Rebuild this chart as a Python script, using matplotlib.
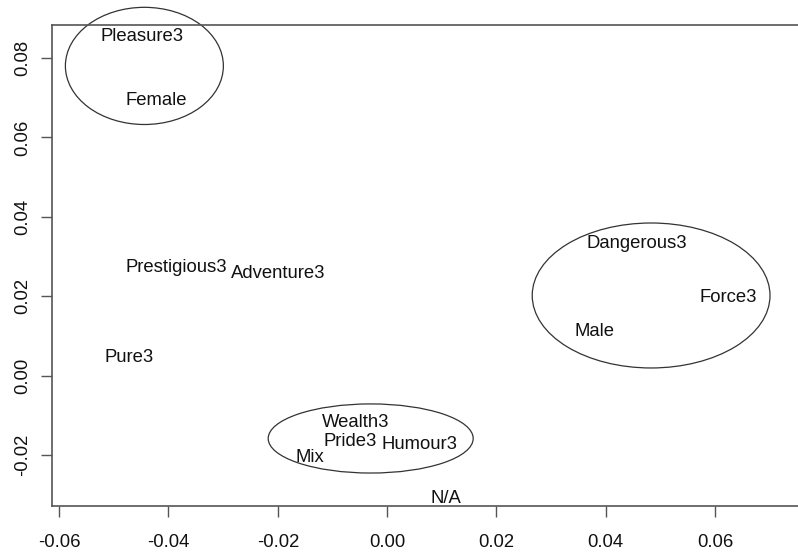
import matplotlib.pyplot as plt
from matplotlib.patches import Ellipse

plt.rcParams['font.family'] = ['Liberation Sans', 'DejaVu Sans']

# word positions (correspondence analysis style map)
labels = ['Pleasure3', 'Female', 'Prestigious3', 'Adventure3', 'Pure3',
          'Dangerous3', 'Force3', 'Male', 'Wealth3', 'Pride3', 'Humour3',
          'Mix', 'N/A']
x_vals = [-0.0448, -0.0422, -0.0386, -0.0199, -0.0472,
          0.0457, 0.0624, 0.0380, -0.0058, -0.0068, 0.0060,
          -0.0142, 0.0107]
y_vals = [0.0853, 0.0694, 0.0273, 0.0258, 0.0047,
          0.0332, 0.0198, 0.0112, -0.0117, -0.0165, -0.0172,
          -0.0205, -0.0308]

# cluster ellipses: centre x, centre y, width, height
ell_x = [-0.0444, 0.0483, -0.0030]
ell_y = [0.0780, 0.0202, -0.0158]
ell_w = [0.0289, 0.0435, 0.0375]
ell_h = [0.0295, 0.0365, 0.0174]

xticks = [-0.06, -0.04, -0.02, 0.00, 0.02, 0.04, 0.06]
yticks = [-0.02, 0.00, 0.02, 0.04, 0.06, 0.08]

fig = plt.figure(figsize=(7.98, 5.55), dpi=100)
ax = fig.add_axes([52/798, 49/555, 756/798, 481/555])

for lab, x, y in zip(labels, x_vals, y_vals):
    ax.text(x, y, lab, ha='center', va='center', fontsize=13.3, color='#111111')

for cx, cy, w, h in zip(ell_x, ell_y, ell_w, ell_h):
    ax.add_patch(Ellipse((cx, cy), w, h, fill=False, edgecolor='#333333',
                         linewidth=0.9, clip_on=False))

ax.set_xlim(-0.0613, 0.0770)
ax.set_ylim(-0.0328, 0.0883)
ax.set_xticks(xticks)
ax.set_xticklabels(['%.2f' % t for t in xticks])
ax.set_yticks(yticks)
ax.set_yticklabels(['%.2f' % t for t in yticks], rotation=90, va='center')

for s in ax.spines.values():
    s.set_color('#555555')
    s.set_linewidth(1.2)
ax.tick_params(length=8, width=1, color='#555555', labelsize=13.3,
               labelcolor='#111111')
ax.tick_params(axis='x', pad=12)
ax.tick_params(axis='y', pad=7)

fig.savefig('out.png', dpi=100)
